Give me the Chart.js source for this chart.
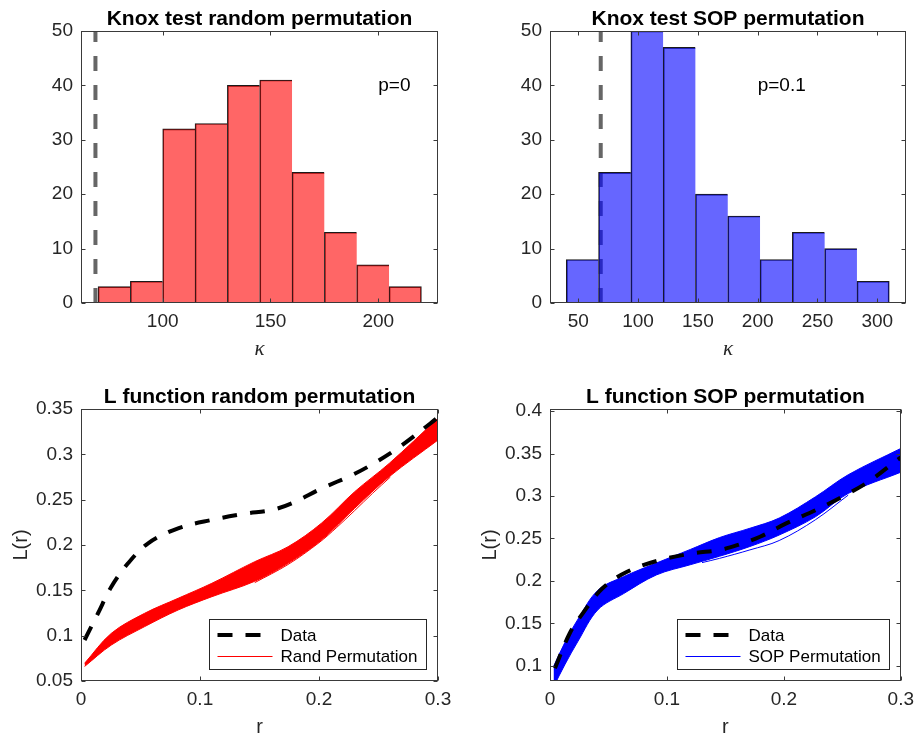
<!DOCTYPE html>
<html>
<head>
<meta charset="utf-8">
<title>Knox test and L function</title>
<script src="https://cdn.jsdelivr.net/npm/chart.js@4.4.0/dist/chart.umd.min.js"></script>
<style>
  body { margin: 0; background: #fff; }
  #wrap { position: relative; width: 921px; height: 735px; }
  canvas { position: absolute; }
</style>
</head>
<body>
<div id="wrap">
  <canvas id="knoxRand" width="460" height="367" style="left:0;top:0"></canvas>
  <canvas id="knoxSop" width="461" height="367" style="left:460px;top:0"></canvas>
  <canvas id="lRand" width="460" height="368" style="left:0;top:367px"></canvas>
  <canvas id="lSop" width="461" height="368" style="left:460px;top:367px"></canvas>
</div>
<script>
// observed Knox statistic
var kappaObs = 68.8;

// histogram bin edges and counts (200 permutations each)
var randEdges = [70, 85, 100, 115, 130, 145, 160, 175, 190, 205, 220];
var randCounts = [3, 4, 32, 33, 40, 41, 24, 13, 7, 3];
var sopEdges = [40, 67, 94, 121, 148, 175, 202, 229, 256, 283, 310];
var sopCounts = [8, 24, 50, 47, 20, 16, 8, 13, 10, 4];

// tick labels
var countTicks = [0, 10, 20, 30, 40, 50];
var knoxRandTicks = [100, 150, 200];
var knoxSopTicks = [50, 100, 150, 200, 250, 300];
var rTicks = [0, 0.1, 0.2, 0.3];
var lRandTicks = [0.05, 0.1, 0.15, 0.2, 0.25, 0.3, 0.35];
var lSopTicks = [0.1, 0.15, 0.2, 0.25, 0.3, 0.35, 0.4];

// L function of the data
var dataRandR = [0.003, 0.0143, 0.0255, 0.0395, 0.0564, 0.0816, 0.1096, 0.1377, 0.16, 0.177, 0.2024, 0.2276, 0.246, 0.268, 0.2935, 0.3];
var dataRandL = [0.0952, 0.1247, 0.154, 0.1798, 0.2019, 0.2184, 0.2276, 0.2345, 0.2385, 0.246, 0.2625, 0.277, 0.290, 0.3085, 0.334, 0.341];
var dataSopR = [0.0042, 0.0168, 0.028, 0.0449, 0.0659, 0.094, 0.122, 0.1446, 0.16, 0.1796, 0.202, 0.2273, 0.2498, 0.2722, 0.2947, 0.3];
var dataSopL = [0.097, 0.138, 0.1617, 0.1912, 0.2107, 0.2245, 0.2324, 0.2362, 0.242, 0.252, 0.2677, 0.2834, 0.299, 0.3167, 0.340, 0.3455];

// envelope of the random permutation curves
var randBandR = [0.003, 0.0255, 0.0535, 0.0816, 0.11, 0.146, 0.174, 0.202, 0.23, 0.259, 0.3];
var randBandHi = [0.0695, 0.1026, 0.1247, 0.1412, 0.1578, 0.1816, 0.1981, 0.224, 0.2588, 0.290, 0.3397];
var randBandLo = [0.066, 0.0897, 0.110, 0.1283, 0.143, 0.1600, 0.1798, 0.2055, 0.2405, 0.2753, 0.3158];
var randLowR = [0.146, 0.174, 0.2, 0.215, 0.23, 0.245, 0.26];
var randLowL = [0.1585, 0.1785, 0.2025, 0.2195, 0.238, 0.257, 0.275];

// envelope of the SOP permutation curves
var sopBandR = [0.003, 0.0126, 0.024, 0.041, 0.063, 0.091, 0.12, 0.145, 0.171, 0.196, 0.227, 0.255, 0.3];
var sopBandHi = [0.099, 0.127, 0.155, 0.189, 0.205, 0.221, 0.237, 0.251, 0.262, 0.274, 0.299, 0.325, 0.356];
var sopBandLo = [0.075, 0.101, 0.129, 0.166, 0.185, 0.207, 0.219, 0.229, 0.2405, 0.254, 0.2755, 0.303, 0.328];
var sopLowR = [0.13, 0.145, 0.171, 0.196, 0.227, 0.255];
var sopLowL = [0.2215, 0.2265, 0.2365, 0.2475, 0.272, 0.301];

Chart.defaults.font.family = '"Liberation Sans", Arial, Helvetica, sans-serif';
Chart.defaults.color = '#262626';

var axisColor = '#262626';

function pts(xs, ys) {
  return xs.map(function(x, i) { return {x: x, y: ys[i]}; });
}

function histPts(edges, counts) {
  return counts.map(function(c, i) { return {x: (edges[i] + edges[i + 1]) / 2, y: c}; });
}

function fmt(v) {
  return String(+v.toFixed(2));
}

function scaleOpts(min, max, tickVals, size, isX) {
  return {
    type: 'linear',
    min: min,
    max: max,
    offset: false,
    grid: {display: false, drawTicks: false},
    border: {display: false},
    ticks: {
      font: {size: 19},
      color: axisColor,
      padding: isX ? 7 : 8,
      maxRotation: 0,
      autoSkip: false,
      callback: function(v) { return fmt(v); }
    },
    afterBuildTicks: function(s) {
      s.ticks = tickVals.map(function(v) { return {value: v}; });
    },
    afterFit: function(s) {
      if (isX) s.height = size; else s.width = size;
    }
  };
}

// box, inward ticks, title, axis labels, text note and legend
var matlabAxes = {
  id: 'matlabAxes',
  afterDatasetsDraw: function(chart, args, o) {
    var ctx = chart.ctx, a = chart.chartArea;
    var xs = chart.scales.x, ys = chart.scales.y;
    var L = Math.round(a.left) + 0.5, R = Math.round(a.right) - 0.5;
    var T = Math.round(a.top) + 0.5, B = Math.round(a.bottom) - 0.5;
    ctx.save();
    ctx.strokeStyle = '#3a3a3a';
    ctx.lineWidth = 1;
    ctx.strokeRect(L, T, R - L, B - T);
    ctx.beginPath();
    xs.ticks.forEach(function(t) {
      var px = Math.round(xs.getPixelForValue(t.value)) + 0.5;
      ctx.moveTo(px, B); ctx.lineTo(px, B - 4);
      ctx.moveTo(px, T); ctx.lineTo(px, T + 4);
    });
    ys.ticks.forEach(function(t) {
      var py = Math.round(ys.getPixelForValue(t.value)) + 0.5;
      ctx.moveTo(L, py); ctx.lineTo(L + 4, py);
      ctx.moveTo(R, py); ctx.lineTo(R - 4, py);
    });
    ctx.stroke();

    var cx = (a.left + a.right) / 2;
    ctx.fillStyle = '#000';
    ctx.font = 'bold 21px "Liberation Sans", Arial, sans-serif';
    ctx.textAlign = 'center';
    ctx.textBaseline = 'alphabetic';
    ctx.fillText(o.title, cx, a.top - 6);

    ctx.fillStyle = axisColor;
    ctx.font = o.xFont;
    ctx.fillText(o.xLabel, cx, a.bottom + 52);

    if (o.yLabel) {
      ctx.save();
      ctx.translate(a.left - 59.5, (a.top + a.bottom) / 2);
      ctx.rotate(-Math.PI / 2);
      ctx.font = '20px "Liberation Sans", Arial, sans-serif';
      ctx.textBaseline = 'middle';
      ctx.fillText(o.yLabel, 0, 0);
      ctx.restore();
    }

    if (o.note) {
      ctx.font = '19px "Liberation Sans", Arial, sans-serif';
      ctx.fillStyle = '#000';
      ctx.textAlign = 'left';
      ctx.textBaseline = 'middle';
      ctx.fillText(o.note.text, xs.getPixelForValue(o.note.x), ys.getPixelForValue(o.note.y));
    }

    if (o.legend) {
      ctx.font = '17px "Liberation Sans", Arial, sans-serif';
      var tw = 0;
      o.legend.forEach(function(i) {
        tw = Math.max(tw, ctx.measureText(chart.data.datasets[i].label).width);
      });
      var w = Math.round(71 + tw + 9), h = 50;
      var bx = Math.round(a.right) - 12 - w + 0.5, by = Math.round(a.bottom) - 12 - h + 0.5;
      ctx.fillStyle = '#fff';
      ctx.fillRect(bx, by, w, h);
      ctx.strokeStyle = axisColor;
      ctx.lineWidth = 1;
      ctx.strokeRect(bx, by, w, h);
      o.legend.forEach(function(i, k) {
        var ds = chart.data.datasets[i];
        var ry = by + 15.5 + k * 21.5;
        ctx.save();
        ctx.strokeStyle = ds.borderColor;
        ctx.lineWidth = ds.borderWidth;
        ctx.setLineDash(ds.borderDash || []);
        ctx.beginPath();
        ctx.moveTo(bx + 8, ry);
        ctx.lineTo(bx + 63, ry);
        ctx.stroke();
        ctx.restore();
        ctx.fillStyle = '#000';
        ctx.textAlign = 'left';
        ctx.textBaseline = 'middle';
        ctx.fillText(ds.label, bx + 71, ry + 1);
      });
    }
    ctx.restore();
  }
};

function barBorder(ctx) {
  var last = ctx.dataset.data.length - 1;
  return {left: 1, top: 1, bottom: 0, right: ctx.dataIndex === last ? 1 : 0};
}

function knoxChart(id, edges, counts, fill, xmin, xmax, xTicks, yWidth, padRight, title, note) {
  return new Chart(document.getElementById(id), {
    type: 'bar',
    data: {
      datasets: [
        {
          label: 'permutations',
          data: histPts(edges, counts),
          backgroundColor: fill,
          borderColor: '#1a1a1a',
          borderWidth: barBorder,
          borderSkipped: false,
          barPercentage: 1,
          categoryPercentage: 1
        },
        {
          type: 'line',
          label: 'observed',
          data: [{x: kappaObs, y: 0}, {x: kappaObs, y: 50}],
          borderColor: '#666666',
          borderWidth: 4,
          borderDash: [15, 14],
          pointRadius: 0
        }
      ]
    },
    options: {
      responsive: false,
      animation: false,
      events: [],
      layout: {padding: {left: 0, top: 31, right: padRight, bottom: 0}},
      scales: {
        x: scaleOpts(xmin, xmax, xTicks, 64, true),
        y: scaleOpts(0, 50, countTicks, yWidth, false)
      },
      plugins: {
        legend: {display: false},
        tooltip: {enabled: false},
        matlabAxes: {
          title: title,
          xLabel: 'κ',
          xFont: 'italic 21px "Liberation Serif", serif',
          note: note
        }
      }
    },
    plugins: [matlabAxes]
  });
}

function lChart(id, color, permLabel, dR, dL, bR, bHi, bLo, oR, oL, ymin, ymax, yTicks, yWidth, padRight, title) {
  var smooth = 0.35;
  return new Chart(document.getElementById(id), {
    type: 'line',
    data: {
      datasets: [
        {
          label: 'Data',
          data: pts(dR, dL),
          borderColor: '#000',
          borderWidth: 4,
          borderDash: [15, 13],
          pointRadius: 0,
          tension: smooth
        },
        {
          label: permLabel,
          data: pts(bR, bLo),
          borderColor: color,
          borderWidth: 1,
          pointRadius: 0,
          fill: false,
          tension: smooth
        },
        {
          label: permLabel + ' upper',
          data: pts(bR, bHi),
          borderColor: color,
          borderWidth: 1,
          pointRadius: 0,
          backgroundColor: color,
          fill: '-1',
          tension: smooth
        },
        {
          label: permLabel + ' low',
          data: pts(oR, oL),
          borderColor: color,
          borderWidth: 1,
          pointRadius: 0,
          tension: smooth
        }
      ]
    },
    options: {
      responsive: false,
      animation: false,
      events: [],
      layout: {padding: {left: 0, top: 42, right: padRight, bottom: 0}},
      scales: {
        x: scaleOpts(0, 0.3, rTicks, 54, true),
        y: scaleOpts(ymin, ymax, yTicks, yWidth, false)
      },
      plugins: {
        legend: {display: false},
        tooltip: {enabled: false},
        matlabAxes: {
          title: title,
          xLabel: 'r',
          xFont: '20px "Liberation Sans", Arial, sans-serif',
          yLabel: 'L(r)',
          legend: [0, 1]
        }
      }
    },
    plugins: [matlabAxes]
  });
}

knoxChart('knoxRand', randEdges, randCounts, 'rgba(255,0,0,0.6)', 62.1, 227.7, knoxRandTicks, 81, 22,
  'Knox test random permutation', {x: 200, y: 40, text: 'p=0'});
knoxChart('knoxSop', sopEdges, sopCounts, 'rgba(0,0,255,0.6)', 26.4, 324, knoxSopTicks, 90, 15,
  'Knox test SOP permutation', {x: 200, y: 40, text: 'p=0.1'});

lChart('lRand', '#ff0000', 'Rand Permutation', dataRandR, dataRandL, randBandR, randBandHi, randBandLo,
  randLowR, randLowL, 0.05, 0.35, lRandTicks, 81, 22, 'L function random permutation');
lChart('lSop', '#0000ff', 'SOP Permutation', dataSopR, dataSopL, sopBandR, sopBandHi, sopBandLo,
  sopLowR, sopLowL, 0.082, 0.4025, lSopTicks, 90, 15, 'L function SOP permutation');
</script>
</body>
</html>
